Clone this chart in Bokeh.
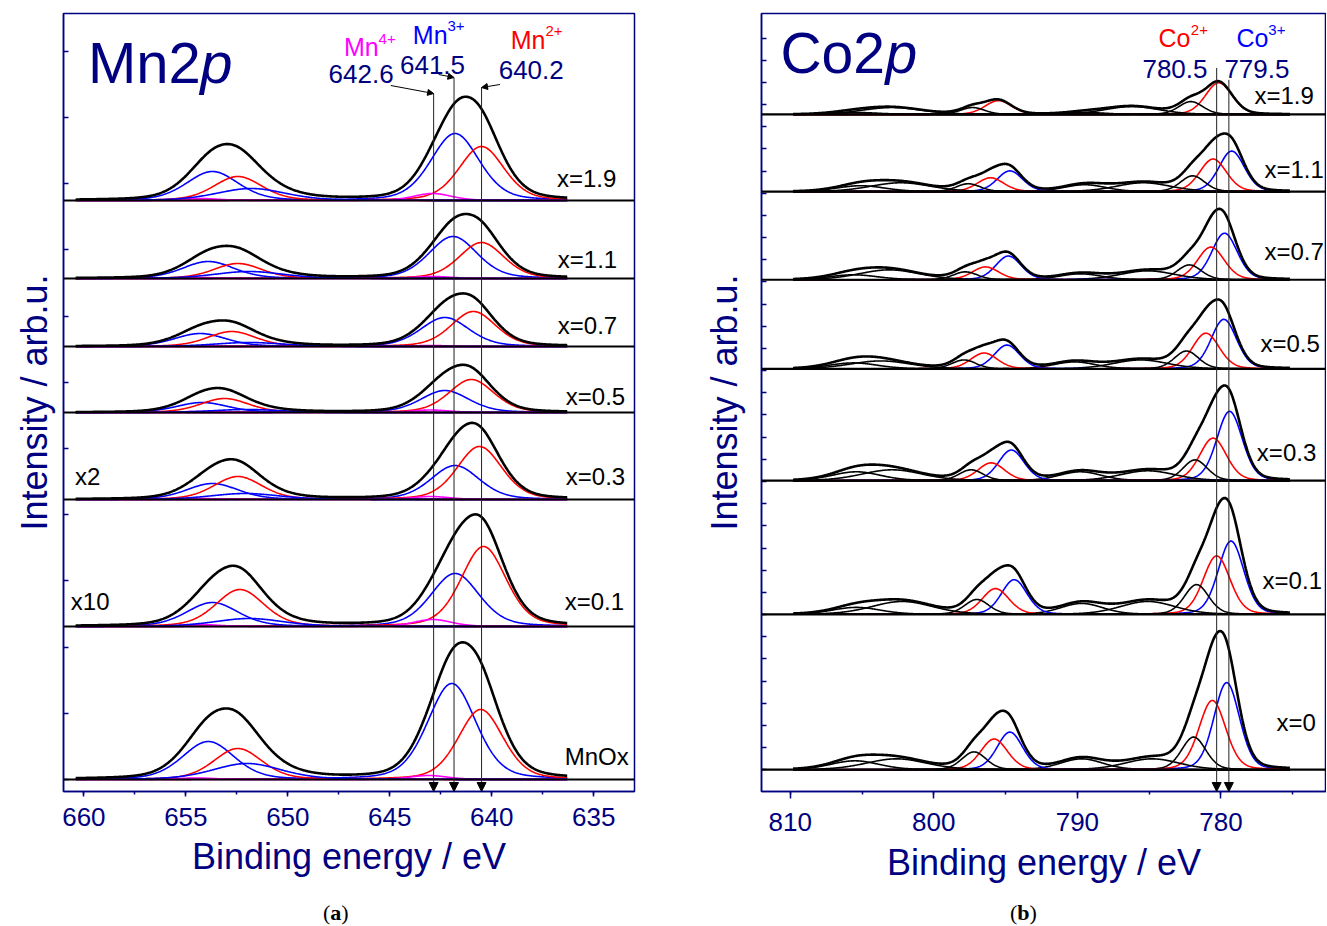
import numpy as np
from bokeh.plotting import figure
from bokeh.models import (Range1d, FixedTicker, SingleIntervalTicker, Span, Arrow,
                          NormalHead, Label, Div)
from bokeh.layouts import row, column
from bokeh.embed import file_html
from bokeh.resources import INLINE

NAVY = "#000080"
FONT = "Liberation Sans"
BLUE, RED, MAG, BLK = "#0000ff", "#ff0000", "#ff00ff", "#000000"

# ------------------------------------------------------------------ Mn 2p data
mn_samples = ["MnOx", "x=0.1", "x=0.3", "x=0.5", "x=0.7", "x=1.1", "x=1.9"]
mn_offsets = [0, 153, 280, 367, 433, 501, 579]
# component order: Mn3+ 2p3/2, Mn2+ 2p3/2, Mn4+ 2p3/2, Mn3+ 2p1/2, Mn2+ 2p1/2, Mn4+ 2p1/2, satellite
mn_colors = [BLUE, RED, MAG, BLUE, RED, MAG, BLUE]
mn_fwhm = [2.8, 2.6, 2.2, 3.0, 2.8, 2.2, 4.0]
mn_center_MnOx = [641.96, 640.54, 643.1, 653.9, 652.45, 654.5, 652.0]
mn_height_MnOx = [96, 70, 4, 38, 31, 1.5, 16]
mn_center_x01 = [641.8, 640.4, 642.9, 653.7, 652.35, 654.3, 651.9]
mn_height_x01 = [53, 80, 7, 24, 37, 2, 8]
mn_center_x03 = [641.8, 640.6, 643.0, 653.7, 652.45, 654.4, 652.1]
mn_height_x03 = [34, 53, 3, 16, 23, 1, 6]
mn_center_x05 = [642.3, 641.0, 643.0, 654.2, 653.1, 654.4, 652.0]
mn_height_x05 = [22, 33, 2.5, 10, 14, 1, 3]
mn_center_x07 = [642.3, 640.9, 643.0, 654.3, 652.75, 654.4, 651.9]
mn_height_x07 = [29, 35, 1, 13, 15, 0.5, 4]
mn_center_x11 = [641.9, 640.5, 642.9, 653.9, 652.45, 654.4, 651.9]
mn_height_x11 = [42, 36, 2, 17, 15, 1, 7]
mn_center_x19 = [641.8, 640.5, 642.9, 653.7, 652.45, 654.3, 651.8]
mn_height_x19 = [67, 54, 7, 29, 24, 2, 12]
mn_centers = [mn_center_MnOx, mn_center_x01, mn_center_x03, mn_center_x05,
              mn_center_x07, mn_center_x11, mn_center_x19]
mn_heights = [mn_height_MnOx, mn_height_x01, mn_height_x03, mn_height_x05,
              mn_height_x07, mn_height_x11, mn_height_x19]
mn_marker_E = [642.85, 641.85, 640.5]
mn_marker_text = ["642.6", "641.5", "640.2"]

# ------------------------------------------------------------------ Co 2p data
co_samples = ["x=0", "x=0.1", "x=0.3", "x=0.5", "x=0.7", "x=1.1", "x=1.9"]
co_offsets = [0, 157, 292, 405, 495, 584, 662]
# order: Co3+ 2p3/2, Co2+ 2p3/2, sat1, sat2, sat3, Co3+ 2p1/2, Co2+ 2p1/2, sat4, sat5, sat6
co_colors = [BLUE, RED, BLK, BLK, BLK, BLUE, RED, BLK, BLK, BLK]
co_fwhm = [2.1, 2.2, 2.0, 4.5, 3.5, 2.1, 2.2, 2.0, 5.0, 4.0]
co_center_x00 = [779.6, 780.6, 781.9, 784.8, 789.7, 794.7, 795.8, 797.2, 802.6, 805.5]
co_height_x00 = [88, 70, 33, 11, 11, 38, 31, 18, 11, 9]
co_center_x01 = [779.3, 780.3, 781.7, 785.1, 789.7, 794.4, 795.7, 797.0, 802.2, 805.4]
co_height_x01 = [74, 59, 30, 13, 11, 35, 26, 15, 13, 7]
co_center_x03 = [779.4, 780.55, 781.8, 785.1, 789.8, 794.6, 796.0, 797.4, 802.9, 805.4]
co_height_x03 = [70, 43, 21, 10, 9, 31, 18, 11, 11, 9]
co_center_x05 = [779.8, 781.05, 782.4, 785.6, 790.2, 794.9, 796.5, 797.9, 803.7, 805.6]
co_height_x05 = [50, 36, 18, 9, 7, 24, 16, 9, 8, 6]
co_center_x07 = [779.75, 780.7, 782.2, 785.1, 789.8, 794.8, 796.4, 797.8, 803.1, 805.6]
co_height_x07 = [47, 33, 15, 9, 6, 24, 13, 8, 10, 5]
co_center_x11 = [779.25, 780.55, 781.97, 785.4, 789.5, 794.7, 796.05, 797.6, 802.3, 805.1]
co_height_x11 = [41, 33, 16, 9, 7, 21, 14, 8, 9, 6]
co_center_x19 = [779.5, 780.15, 782.1, 786.2, 789.5, 794.5, 795.5, 797.3, 802.9, 805.5]
co_height_x19 = [0, 32, 13, 8, 2, 0, 14, 7, 7, 2]
co_centers = [co_center_x00, co_center_x01, co_center_x03, co_center_x05,
              co_center_x07, co_center_x11, co_center_x19]
co_heights = [co_height_x00, co_height_x01, co_height_x03, co_height_x05,
              co_height_x07, co_height_x11, co_height_x19]
co_marker_E = [780.3, 779.45]
co_marker_text = ["780.5", "779.5"]


def pvoigt(E, c, h, w, eta):
    u = (E - c) / (w / 2.0)
    return h * ((1 - eta) * np.exp(-np.log(2) * u * u) + eta / (1 + u * u))


def make_fig(width, height, xr, yr, bl, bt, br, bb, tick_int, ytick_step, ytop,
             ylabel_standoff, xlabel_standoff, tick_out, tick_label_standoff):
    p = figure(width=width, height=height, x_range=Range1d(*xr), y_range=Range1d(*yr),
               output_backend="svg", toolbar_location=None,
               min_border_left=bl, min_border_top=bt, min_border_right=br,
               min_border_bottom=bb)
    p.grid.visible = False
    p.outline_line_color = NAVY
    p.outline_line_width = 1.5
    p.background_fill_color = "white"
    xa = p.xaxis[0]
    xa.ticker = SingleIntervalTicker(interval=tick_int, num_minor_ticks=2)
    xa.axis_line_color = NAVY
    xa.axis_line_width = 1.5
    xa.major_tick_line_color = NAVY
    xa.minor_tick_line_color = NAVY
    xa.major_tick_line_width = 1.5
    xa.minor_tick_line_width = 1.5
    xa.major_tick_out = tick_out
    xa.major_tick_in = 0
    xa.minor_tick_out = 3
    xa.minor_tick_in = 0
    xa.major_label_text_font = FONT
    xa.major_label_text_font_size = "26px"
    xa.major_label_text_color = NAVY
    xa.major_label_standoff = tick_label_standoff
    xa.axis_label = "Binding energy / eV"
    xa.axis_label_text_font = FONT
    xa.axis_label_text_font_size = "36px"
    xa.axis_label_text_font_style = "normal"
    xa.axis_label_text_color = NAVY
    xa.axis_label_standoff = xlabel_standoff
    ya = p.yaxis[0]
    # unlabeled intensity ticks: drawn as minor ticks pointing inward
    ya.ticker = FixedTicker(ticks=[], minor_ticks=list(np.arange(0, ytop, ytick_step)))
    ya.axis_line_color = NAVY
    ya.axis_line_width = 1.5
    ya.minor_tick_line_color = NAVY
    ya.minor_tick_line_width = 1.5
    ya.minor_tick_in = 5
    ya.minor_tick_out = 0
    ya.major_tick_in = 0
    ya.major_tick_out = 0
    ya.major_label_standoff = 0
    ya.axis_label = "Intensity / arb.u."
    ya.axis_label_text_font = FONT
    ya.axis_label_text_font_size = "36px"
    ya.axis_label_text_font_style = "normal"
    ya.axis_label_text_color = NAVY
    ya.axis_label_standoff = ylabel_standoff
    return p


def label(p, x, y, text, color, size, style="normal", align="left", font=FONT):
    p.add_layout(Label(x=x, y=y, text=text, text_color=color, text_font=font,
                       text_font_size=size, text_font_style=style, text_align=align,
                       text_baseline="alphabetic"))


# ------------------------------------------------------------------ panel (a)
pa = make_fig(690, 892, (661.0, 633.0), (-12, 766), 63, 13, 56, 101, 5, 66.2, 760,
              9, 7, 5, 11)
E_mn = np.linspace(660.4, 636.3, 700)
for off, cs, hs in zip(mn_offsets, mn_centers, mn_heights):
    total = np.zeros_like(E_mn)
    for c, h, w, col in zip(cs, hs, mn_fwhm, mn_colors):
        comp = pvoigt(E_mn, c, h, w, 0.3)
        total += comp
        if h > 0:
            pa.line(E_mn, comp + off, line_color=col, line_width=1.6)
    pa.line(E_mn, total + off, line_color="black", line_width=2.6)
    pa.add_layout(Span(location=off, dimension="width", line_color="black", line_width=2))

for txt, x, y in zip(mn_samples, [636.42, 636.42, 636.37, 636.37, 636.76, 636.76, 636.8],
                     [23, 178, 303, 383, 454, 520, 601]):
    label(pa, x, y, txt, "black", "24px")
label(pa, 660.44, 303, "x2", "black", "24px")
label(pa, 660.64, 178, "x10", "black", "24px")

label(pa, 659.8, 717, "Mn2", NAVY, "58px")
label(pa, 654.3, 717, "p", NAVY, "58px", style="italic")

label(pa, 647.25, 733, "Mn", MAG, "25px")
label(pa, 645.55, 741, "4+", MAG, "15px")
label(pa, 643.87, 745, "Mn", BLUE, "25px")
label(pa, 642.17, 754, "3+", BLUE, "15px")
label(pa, 639.07, 740, "Mn", RED, "25px")
label(pa, 637.37, 749, "2+", RED, "15px")
for txt, x, y in zip(mn_marker_text, [648.0, 644.5, 639.66], [706, 715, 710]):
    label(pa, x, y, txt, NAVY, "26px")

mn_line_top = [686, 702, 692]
for E, top in zip(mn_marker_E, mn_line_top):
    pa.add_layout(Arrow(end=NormalHead(size=9, fill_color="black", line_color="black"),
                        x_start=E, y_start=top, x_end=E, y_end=-12,
                        line_color="#222222", line_width=1))
pa.add_layout(Arrow(end=NormalHead(size=6, fill_color="black", line_color="black"),
                    x_start=644.95, y_start=694, x_end=mn_marker_E[0], y_end=686,
                    line_color="black", line_width=1))
pa.add_layout(Arrow(end=NormalHead(size=6, fill_color="black", line_color="black"),
                    x_start=642.6, y_start=705, x_end=mn_marker_E[1], y_end=702,
                    line_color="black", line_width=1))
pa.add_layout(Arrow(end=NormalHead(size=6, fill_color="black", line_color="black"),
                    x_start=639.6, y_start=695, x_end=mn_marker_E[2], y_end=692,
                    line_color="black", line_width=1))

# ------------------------------------------------------------------ panel (b)
pb = make_fig(636, 892, (812.0, 772.65), (-22, 764), 71, 10, 0, 96, 10, 22.4, 760,
              17, 8, 7, 14)
E_co = np.linspace(809.8, 775.2, 800)
for off, cs, hs in zip(co_offsets, co_centers, co_heights):
    total = np.zeros_like(E_co)
    for c, h, w, col in zip(cs, hs, co_fwhm, co_colors):
        comp = pvoigt(E_co, c, h, w, 0.2)
        total += comp
        if h > 0:
            pb.line(E_co, comp + off, line_color=col, line_width=1.6)
    pb.line(E_co, total + off, line_color="black", line_width=2.6)
    pb.add_layout(Span(location=off, dimension="width", line_color="black", line_width=2.2))

for txt, x, y in zip(co_samples, [776.13, 777.1, 777.5, 777.25, 776.97, 776.97, 777.67],
                     [48, 191, 320, 431, 524, 606, 681]):
    label(pb, x, y, txt, "black", "24px")

label(pb, 810.68, 724, "Co2", NAVY, "57px")
label(pb, 803.36, 724, "p", NAVY, "57px", style="italic")
label(pb, 784.35, 739, "Co", RED, "25px")
label(pb, 782.1, 747, "2+", RED, "15px")
label(pb, 778.92, 739, "Co", BLUE, "25px")
label(pb, 776.7, 747, "3+", BLUE, "15px")
for txt, x in zip(co_marker_text, [785.47, 779.76]):
    label(pb, x, 708, txt, NAVY, "26px")

co_line_top = [709, 697]
for E, top in zip(co_marker_E, co_line_top):
    pb.add_layout(Arrow(end=NormalHead(size=9, fill_color="black", line_color="black"),
                        x_start=E, y_start=top, x_end=E, y_end=-22,
                        line_color="#222222", line_width=1))

# ------------------------------------------------------------------ captions
cap_style = "font-family:'Liberation Serif';font-size:22px;color:black;line-height:24px;"
da = Div(text=f'<div style="{cap_style}padding-left:318px;padding-top:4px;">(<b>a</b>)</div>',
         width=690, height=32)
db = Div(text=f'<div style="{cap_style}padding-left:305px;padding-top:4px;">(<b>b</b>)</div>',
         width=636, height=32)

layout = column(row(pa, pb), row(da, db))
open("out.html", "w").write(file_html(layout, INLINE))
